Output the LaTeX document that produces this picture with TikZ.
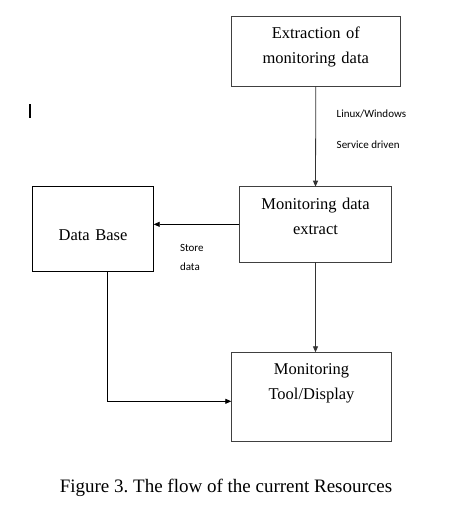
\documentclass[tikz,border=0pt]{standalone}
\usepackage{fontspec}
\setmainfont{Liberation Serif}
\newfontfamily\notefont{Carlito}
\usetikzlibrary{arrows.meta}
\usetikzlibrary{calc}
\frenchspacing
\begin{document}
\begin{tikzpicture}[x=1pt, y=-1pt, node distance=0 cm, outer sep=0pt]
          \newcommand{\boxfont}{\fontsize{16.5pt}{25pt}\selectfont}
          \newcommand{\firstline}{22.5pt}
          \newcommand{\elbowx}{14.5pt}
          \newcommand{\elbowy}{-4.5pt}

          \tikzstyle{stage}=[
            draw=black!75,
            rectangle,
            line width=0.8pt,
            inner sep=0pt,
            align=center,
            anchor=north west,
            font=\boxfont,
            text height=\firstline
          ]
          \tikzstyle{note}=[
            inner sep=0pt,
            align=left,
            anchor=base west
          ]
          \tikzstyle{arrow} = [line width=0.8pt, -{Triangle[length=6pt,width=5pt]}, draw=black!80]

          \useasboundingbox (0,0) rectangle (467,505);

          % boxes
          \node[stage, text width=169pt, text depth=47.5pt] (source) at (231.3,16.3) {Extraction of\\monitoring data};
          \node[stage, text width=152.4pt, text depth=52.8pt] (extractor) at (239.3,186.7) {Monitoring data\\extract};
          \node[stage, draw=black, text width=121.4pt, text height=53.7pt, text depth=31.3pt] (database) at (32.3,186.3) {Data Base};
          \node[stage, text width=160.4pt, text depth=66.5pt] (display) at (231.3,352.3) {Monitoring\\Tool/Display};

          % notes (base = last line)
          \node[note, font=\notefont\fontsize{11pt}{30.8pt}\selectfont] (osnote) at (336.7,148.3) {Linux/Windows\\Service driven};
          \node[note, font=\notefont\fontsize{11pt}{18.3pt}\selectfont] (storenote) at (180,270) {Store\\data};

          % stray mark
          \draw[line width=1.8pt] (30.3,104.3) -- (30.3,118.3);

          \draw[arrow] (source.south) -- (extractor.north);
          \draw[arrow, draw=black] (extractor.west) -- (extractor.west -| database.east);
          \draw[arrow] (extractor.south) -- (extractor.south |- display.north);
          \draw[arrow, draw=black] ([xshift=\elbowx] database.south) |- ([yshift=\elbowy] display.west);

          \node[anchor=base, font=\fontsize{19pt}{23pt}\selectfont] (caption) at (226,492.7) {Figure 3. The flow of the current Resources};

        \end{tikzpicture}
\end{document}
